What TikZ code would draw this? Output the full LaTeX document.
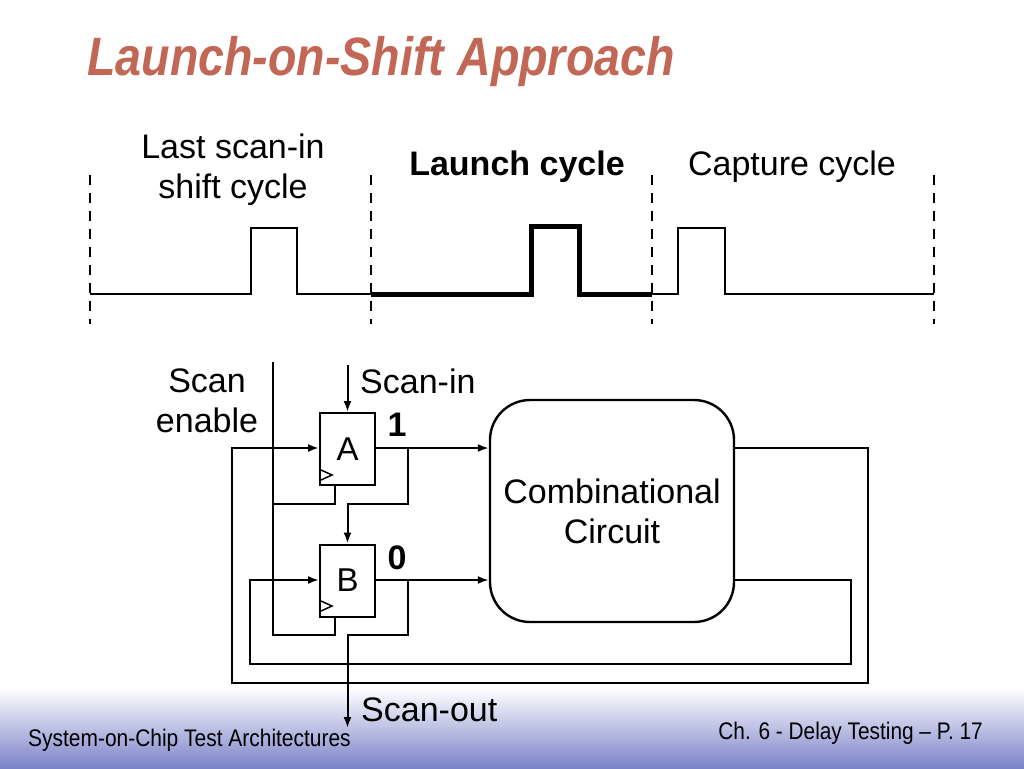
\documentclass[tikz,border=0pt]{standalone}
\usepackage{fontspec}
\setmainfont{Liberation Sans}
\usetikzlibrary{arrows.meta}
\definecolor{titlecol}{RGB}{194,102,86}
\definecolor{footblue}{RGB}{122,130,200}
\begin{document}
\begin{tikzpicture}[x=1pt,y=-1pt,
  wire/.style={line width=2pt},
  arr/.style={wire,-{Latex[length=11pt,width=8pt]}},
  thickw/.style={line width=5pt},
  divider/.style={line width=1.6pt,dash pattern=on 10pt off 8pt},
  lbl/.style={font=\fontsize{34}{40}\selectfont,inner sep=0pt},
  ff/.style={draw,line width=2pt,minimum width=55pt,minimum height=72pt,inner sep=0pt,font=\fontsize{33}{38}\selectfont},
  comb/.style={draw,line width=2.4pt,rounded corners=40pt,minimum width=244pt,minimum height=222pt,align=center,font=\fontsize{34}{40}\selectfont}
]
\useasboundingbox (0,0) rectangle (1024,768);
\fill[white] (0,0) rectangle (1024,768);
\shade[top color=white,bottom color=footblue] (0,688) rectangle (1024,768);

% title
\node[anchor=base west,inner sep=0pt,text=titlecol] (title) at (87,75)
  {\scalebox{0.863}[1]{\fontsize{54}{60}\selectfont\bfseries\itshape Launch-on-Shift Approach}};

% waveform dividers
\foreach \x/\n in {90/d1,371/d2,652/d3,934/d4}{
  \coordinate (\n t) at (\x,175);
  \coordinate (\n b) at (\x,324);
  \draw[divider] (\n t) -- (\n b);
}
\coordinate (w0) at (90,294);
\coordinate (w1) at (251,294);
\coordinate (w2) at (251,228);
\coordinate (w3) at (297,228);
\coordinate (w4) at (297,294);
\coordinate (w5) at (371,294);
\draw[wire] (w0) -- (w1) -- (w2) -- (w3) -- (w4) -- (w5);
\coordinate (t1) at (531,294);
\coordinate (t2) at (531,226);
\coordinate (t3) at (579,226);
\coordinate (t4) at (579,294);
\coordinate (t5) at (652,294);
\draw[thickw] (w5) -- (t1) -- (t2) -- (t3) -- (t4) -- (t5);
\coordinate (c1) at (678,294);
\coordinate (c2) at (678,228);
\coordinate (c3) at (725,228);
\coordinate (c4) at (725,294);
\coordinate (c5) at (934,294);
\draw[wire] (t5) -- (c1) -- (c2) -- (c3) -- (c4) -- (c5);

\node[lbl,align=center,font=\fontsize{34}{40}\selectfont] (lastscan) at (233,170) {Last scan-in\\shift cycle};
\node[lbl,font=\fontsize{34}{40}\selectfont\bfseries] (launch) at (517,167) {Launch cycle};
\node[lbl] (capture) at (792,167) {Capture cycle};

% circuit
\node[ff] (A) at (347.5,449) {A};
\node[ff] (B) at (347.5,580.5) {B};
\node[comb] (C) at (612,511) {Combinational\\Circuit};

% clock triangles
\draw[line width=1.5pt] (321,470) -- (332,475) -- (321,480);
\draw[line width=1.5pt] (321,601) -- (332,606) -- (321,611);

% labels
\node[lbl,align=center,font=\fontsize{34}{40}\selectfont] (se) at (207,401) {Scan\\enable};
\node[lbl,anchor=west] (sin) at (360,381) {Scan-in};
\node[lbl,anchor=west] (sout) at (361,710) {Scan-out};
\node[lbl,font=\fontsize{34}{40}\selectfont\bfseries] (one) at (397,425) {1};
\node[lbl,font=\fontsize{34}{40}\selectfont\bfseries] (zero) at (397,558) {0};

% scan enable
\coordinate (se0) at (273,362);
\coordinate (seA) at (273,504);
\coordinate (seB) at (273,635);
\draw[wire] (se0) -- (seB) -- (335,635) -- (335,617);
\draw[wire] (seA) -- (335,504) -- (335,485);

% scan-in
\coordinate (si0) at (347.5,365);
\draw[arr] (si0) -- (A.north);

% A output
\coordinate (Ao) at (408,448);
\draw[arr] (A.east |- Ao) -- (C.west |- Ao);
\draw[wire] (Ao) -- (408,504) -- (347.5,504);
\draw[arr] (347.5,503) -- (B.north);

% B output
\coordinate (Bo) at (408,580);
\draw[arr] (B.east |- Bo) -- (C.west |- Bo);
\coordinate (so) at (347.5,728);
\draw[wire] (Bo) -- (408,635) -- (347.5,635);
\draw[arr] (347.5,634) -- (so);

% feedback loops
\draw[arr] (C.east |- Ao) -- (868,448) -- (868,683) -- (232,683) -- (232,448) -- (A.west |- Ao);
\draw[arr] (C.east |- Bo) -- (851,580) -- (851,664) -- (250,664) -- (250,580) -- (B.west |- Bo);

% footer
\node[anchor=west,inner sep=0pt] (f1) at (28,740)
  {\scalebox{0.873}[1]{\fontsize{24}{28}\selectfont System-on-Chip Test Architectures}};
\node[anchor=east,inner sep=0pt] (f2) at (983,733)
  {\scalebox{0.868}[1]{\fontsize{24}{28}\selectfont Ch. 6 - Delay Testing -- P. 17}};
\end{tikzpicture}
\end{document}
